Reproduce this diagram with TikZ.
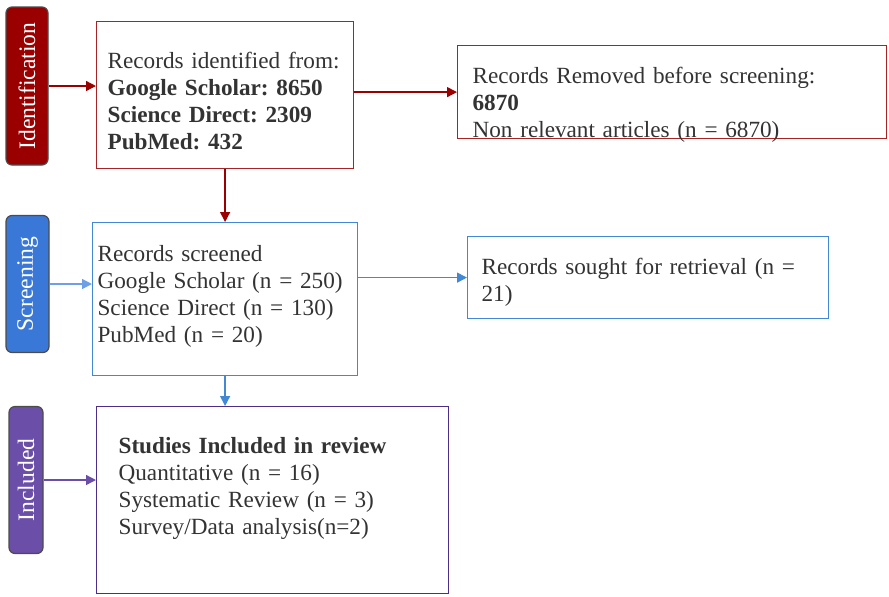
\documentclass[tikz,border=0pt]{standalone}
\usepackage{fontspec}
\setmainfont{Liberation Serif}
\usetikzlibrary{arrows.meta, positioning}
\definecolor{idred}{RGB}{155,0,0}
\definecolor{idline}{RGB}{168,36,36}
\definecolor{scblue}{RGB}{58,120,216}
\definecolor{scline}{RGB}{66,136,212}
\definecolor{sclight}{RGB}{110,160,232}
\definecolor{inpurple}{RGB}{106,78,168}
\definecolor{inline}{RGB}{75,45,140}
\definecolor{txtgray}{RGB}{51,51,51}
\frenchspacing
\tikzset{
  box/.style={
    rectangle, draw, line width=0.6pt, fill=white, text=txtgray,
    align=left, anchor=north west, inner ysep=0pt,
    font=\fontsize{11.6}{13.5}\selectfont
  },
  phase/.style={
    rectangle, rounded corners=3pt, draw=black!70, line width=0.6pt,
    text=white, rotate=90, inner sep=0pt,
    font=\fontsize{11.8}{13}\selectfont
  },
  arrow/.style={-{Triangle[length=5pt,width=5pt]}, line width=0.7pt},
}

\begin{document}
\begin{tikzpicture}[x=0.5pt, y=-0.5pt]
\useasboundingbox (0,0) rectangle (889,596);

%% ---- IDENTIFICATION ----
\node[phase, fill=idred, minimum width=79pt, minimum height=21pt] (idphase) at (27,86) {Identification};
\node[box, draw=idline, minimum width=128.5pt, minimum height=73.5pt,
      inner xsep=5.5pt, text width=117.5pt, text depth=35pt] (ident) at (96,21)
  {Records identified from:\\\textbf{Google Scholar: 8650}\\\textbf{Science Direct: 2309}\\\textbf{PubMed: 432}};
\node[box, draw=idline, minimum width=214.5pt, minimum height=46.5pt,
      inner xsep=7.5pt, text width=199.5pt, text depth=16.5pt] (removed) at (457,45)
  {Records Removed before screening:\\\textbf{6870}\\Non relevant articles (n = 6870)};

\draw[arrow, idred] (idphase.south) -- (idphase.south -| ident.west);
\draw[arrow, idred] (ident.east |- removed.west) -- (removed.west);

%% ---- SCREENING ----
\node[phase, fill=scblue, minimum width=68.5pt, minimum height=21.5pt] (scphase) at (27.5,284) {Screening};
\node[box, draw=scline, minimum width=132.5pt, minimum height=76.5pt,
      inner xsep=2.5pt, text width=127.5pt, text depth=45.5pt] (screened) at (92,222)
  {Records screened\\Google Scholar (n = 250)\\Science Direct (n = 130)\\PubMed (n = 20)};
\node[box, draw=scline, minimum width=180.5pt, minimum height=41pt,
      inner xsep=7pt, text width=166.5pt, text depth=11pt] (sought) at (467,236)
  {Records sought for retrieval (n =\\21)};

\draw[arrow, idred] (ident.south) -- (screened.north);
\draw[arrow, sclight] (scphase.south) -- (scphase.south -| screened.west);
\draw[arrow, scline] (screened.east |- sought.west) -- (sought.west);

%% ---- INCLUDED ----
\node[phase, fill=inpurple, minimum width=73.5pt, minimum height=17pt] (inphase) at (26,480) {Included};
\node[box, draw=inline, minimum width=176pt, minimum height=93.5pt,
      inner xsep=11pt, text width=154pt, text depth=54.5pt] (included) at (96,406)
  {\textbf{Studies Included in review}\\Quantitative (n = 16)\\Systematic Review (n = 3)\\Survey/Data analysis(n=2)};

\draw[arrow, scline] (screened.south) -- (screened.south |- included.north);
\draw[arrow, inpurple] (inphase.south) -- (inphase.south -| included.west);

\end{tikzpicture}
\end{document}
